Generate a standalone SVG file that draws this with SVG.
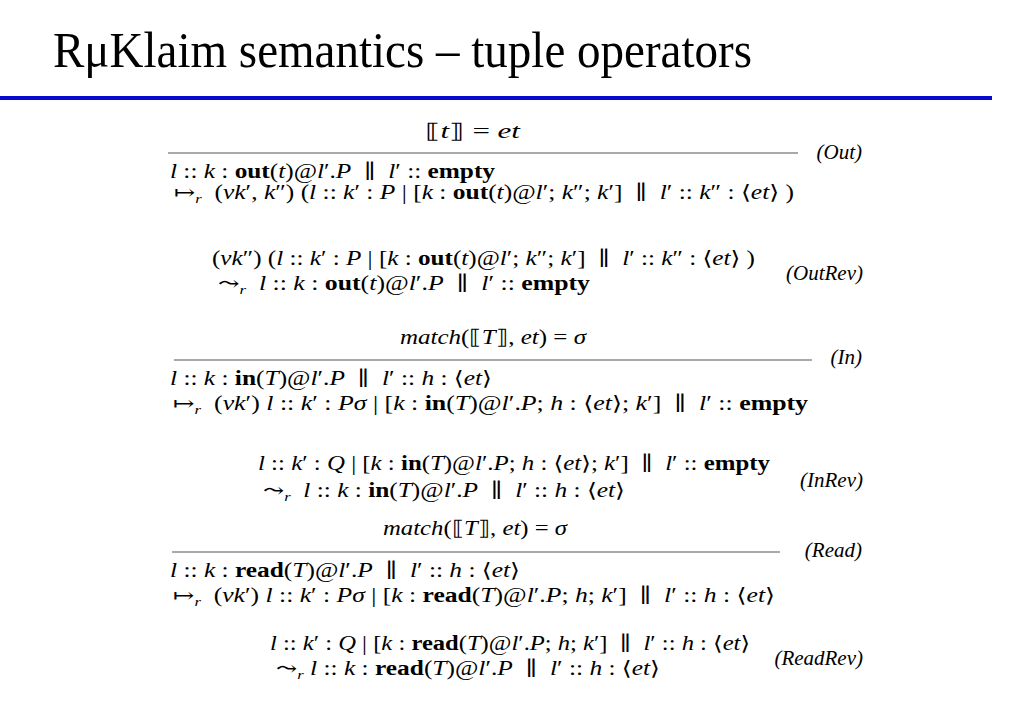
<svg xmlns="http://www.w3.org/2000/svg" width="1024" height="709" viewBox="0 0 1024 709">
<style>
.m{font-family:"Liberation Serif","DejaVu Serif",serif;font-size:20px;fill:#000;white-space:pre}
.i{font-style:italic}
.b{font-weight:bold}
.s{font-style:italic;font-size:13px}
.lab{font-family:"Liberation Serif","DejaVu Serif",serif;font-size:21px;font-style:italic;fill:#000;text-anchor:end}
.rule{stroke:#555;stroke-width:1.2}
.title{font-family:"Liberation Serif","DejaVu Serif",serif;font-size:51px;fill:#000}
</style>
<rect width="1024" height="709" fill="#fff"/>
<text class="title" x="53" y="67" textLength="699" lengthAdjust="spacingAndGlyphs">RμKlaim semantics – tuple operators</text>
<rect x="0" y="96" width="992" height="4" fill="#0a0acc"/>

<g id="out">
<text class="m" x="425" y="138" textLength="95" lengthAdjust="spacingAndGlyphs">⟦<tspan class="i">t</tspan>⟧ = <tspan class="i">et</tspan></text>
<line class="rule" x1="168" y1="153" x2="798" y2="153"/>
<text class="lab" x="862" y="159">(Out)</text>
<text class="m" x="170" y="178" textLength="325" lengthAdjust="spacingAndGlyphs"><tspan class="i">l</tspan> :: <tspan class="i">k</tspan> : <tspan class="b">out</tspan>(<tspan class="i">t</tspan>)@<tspan class="i">l</tspan>′.<tspan class="i">P</tspan>  ∥  <tspan class="i">l</tspan>′ :: <tspan class="b">empty</tspan></text>
<text class="m" x="174" y="199" textLength="620" lengthAdjust="spacingAndGlyphs">↦<tspan class="s" dy="4">r</tspan><tspan dy="-4">  (</tspan><tspan class="i">νk</tspan>′, <tspan class="i">k</tspan>″) (<tspan class="i">l</tspan> :: <tspan class="i">k</tspan>′ : <tspan class="i">P</tspan> | [<tspan class="i">k</tspan> : <tspan class="b">out</tspan>(<tspan class="i">t</tspan>)@<tspan class="i">l</tspan>′; <tspan class="i">k</tspan>″; <tspan class="i">k</tspan>′]  ∥  <tspan class="i">l</tspan>′ :: <tspan class="i">k</tspan>″ : ⟨<tspan class="i">et</tspan>⟩ )</text>
</g>

<g id="outrev">
<text class="m" x="212" y="265" textLength="543" lengthAdjust="spacingAndGlyphs">(<tspan class="i">νk</tspan>″) (<tspan class="i">l</tspan> :: <tspan class="i">k</tspan>′ : <tspan class="i">P</tspan> | [<tspan class="i">k</tspan> : <tspan class="b">out</tspan>(<tspan class="i">t</tspan>)@<tspan class="i">l</tspan>′; <tspan class="i">k</tspan>″; <tspan class="i">k</tspan>′]  ∥  <tspan class="i">l</tspan>′ :: <tspan class="i">k</tspan>″ : ⟨<tspan class="i">et</tspan>⟩ )</text>
<text class="m" x="218" y="290" textLength="372" lengthAdjust="spacingAndGlyphs">⤳<tspan class="s" dy="4">r</tspan><tspan dy="-4">  </tspan><tspan class="i">l</tspan> :: <tspan class="i">k</tspan> : <tspan class="b">out</tspan>(<tspan class="i">t</tspan>)@<tspan class="i">l</tspan>′.<tspan class="i">P</tspan>  ∥  <tspan class="i">l</tspan>′ :: <tspan class="b">empty</tspan></text>
<text class="lab" x="863" y="280">(OutRev)</text>
</g>

<g id="in">
<text class="m" x="400" y="344" textLength="186" lengthAdjust="spacingAndGlyphs"><tspan class="i">match</tspan>(⟦<tspan class="i">T</tspan>⟧, <tspan class="i">et</tspan>) = <tspan class="i">σ</tspan></text>
<line class="rule" x1="174" y1="360" x2="812" y2="360"/>
<text class="lab" x="862" y="364">(In)</text>
<text class="m" x="170" y="385" textLength="322" lengthAdjust="spacingAndGlyphs"><tspan class="i">l</tspan> :: <tspan class="i">k</tspan> : <tspan class="b">in</tspan>(<tspan class="i">T</tspan>)@<tspan class="i">l</tspan>′.<tspan class="i">P</tspan>  ∥  <tspan class="i">l</tspan>′ :: <tspan class="i">h</tspan> : ⟨<tspan class="i">et</tspan>⟩</text>
<text class="m" x="173" y="410" textLength="635" lengthAdjust="spacingAndGlyphs">↦<tspan class="s" dy="4">r</tspan><tspan dy="-4">  (</tspan><tspan class="i">νk</tspan>′) <tspan class="i">l</tspan> :: <tspan class="i">k</tspan>′ : <tspan class="i">Pσ</tspan> | [<tspan class="i">k</tspan> : <tspan class="b">in</tspan>(<tspan class="i">T</tspan>)@<tspan class="i">l</tspan>′.<tspan class="i">P</tspan>; <tspan class="i">h</tspan> : ⟨<tspan class="i">et</tspan>⟩; <tspan class="i">k</tspan>′]  ∥  <tspan class="i">l</tspan>′ :: <tspan class="b">empty</tspan></text>
</g>

<g id="inrev">
<text class="m" x="258" y="470" textLength="512" lengthAdjust="spacingAndGlyphs"><tspan class="i">l</tspan> :: <tspan class="i">k</tspan>′ : <tspan class="i">Q</tspan> | [<tspan class="i">k</tspan> : <tspan class="b">in</tspan>(<tspan class="i">T</tspan>)@<tspan class="i">l</tspan>′.<tspan class="i">P</tspan>; <tspan class="i">h</tspan> : ⟨<tspan class="i">et</tspan>⟩; <tspan class="i">k</tspan>′]  ∥  <tspan class="i">l</tspan>′ :: <tspan class="b">empty</tspan></text>
<text class="m" x="263" y="497" textLength="362" lengthAdjust="spacingAndGlyphs">⤳<tspan class="s" dy="4">r</tspan><tspan dy="-4">  </tspan><tspan class="i">l</tspan> :: <tspan class="i">k</tspan> : <tspan class="b">in</tspan>(<tspan class="i">T</tspan>)@<tspan class="i">l</tspan>′.<tspan class="i">P</tspan>  ∥  <tspan class="i">l</tspan>′ :: <tspan class="i">h</tspan> : ⟨<tspan class="i">et</tspan>⟩</text>
<text class="lab" x="863" y="487">(InRev)</text>
</g>

<g id="read">
<text class="m" x="383" y="535" textLength="184" lengthAdjust="spacingAndGlyphs"><tspan class="i">match</tspan>(⟦<tspan class="i">T</tspan>⟧, <tspan class="i">et</tspan>) = <tspan class="i">σ</tspan></text>
<line class="rule" x1="172" y1="552" x2="780" y2="552"/>
<text class="lab" x="862" y="557">(Read)</text>
<text class="m" x="170" y="577" textLength="350" lengthAdjust="spacingAndGlyphs"><tspan class="i">l</tspan> :: <tspan class="i">k</tspan> : <tspan class="b">read</tspan>(<tspan class="i">T</tspan>)@<tspan class="i">l</tspan>′.<tspan class="i">P</tspan>  ∥  <tspan class="i">l</tspan>′ :: <tspan class="i">h</tspan> : ⟨<tspan class="i">et</tspan>⟩</text>
<text class="m" x="173" y="602" textLength="602" lengthAdjust="spacingAndGlyphs">↦<tspan class="s" dy="4">r</tspan><tspan dy="-4">  (</tspan><tspan class="i">νk</tspan>′) <tspan class="i">l</tspan> :: <tspan class="i">k</tspan>′ : <tspan class="i">Pσ</tspan> | [<tspan class="i">k</tspan> : <tspan class="b">read</tspan>(<tspan class="i">T</tspan>)@<tspan class="i">l</tspan>′.<tspan class="i">P</tspan>; <tspan class="i">h</tspan>; <tspan class="i">k</tspan>′]  ∥  <tspan class="i">l</tspan>′ :: <tspan class="i">h</tspan> : ⟨<tspan class="i">et</tspan>⟩</text>
</g>

<g id="readrev">
<text class="m" x="270" y="650" textLength="480" lengthAdjust="spacingAndGlyphs"><tspan class="i">l</tspan> :: <tspan class="i">k</tspan>′ : <tspan class="i">Q</tspan> | [<tspan class="i">k</tspan> : <tspan class="b">read</tspan>(<tspan class="i">T</tspan>)@<tspan class="i">l</tspan>′.<tspan class="i">P</tspan>; <tspan class="i">h</tspan>; <tspan class="i">k</tspan>′]  ∥  <tspan class="i">l</tspan>′ :: <tspan class="i">h</tspan> : ⟨<tspan class="i">et</tspan>⟩</text>
<text class="m" x="276" y="675" textLength="384" lengthAdjust="spacingAndGlyphs">⤳<tspan class="s" dy="4">r</tspan><tspan dy="-4"> </tspan><tspan class="i">l</tspan> :: <tspan class="i">k</tspan> : <tspan class="b">read</tspan>(<tspan class="i">T</tspan>)@<tspan class="i">l</tspan>′.<tspan class="i">P</tspan>  ∥  <tspan class="i">l</tspan>′ :: <tspan class="i">h</tspan> : ⟨<tspan class="i">et</tspan>⟩</text>
<text class="lab" x="863" y="665">(ReadRev)</text>
</g>
</svg>
